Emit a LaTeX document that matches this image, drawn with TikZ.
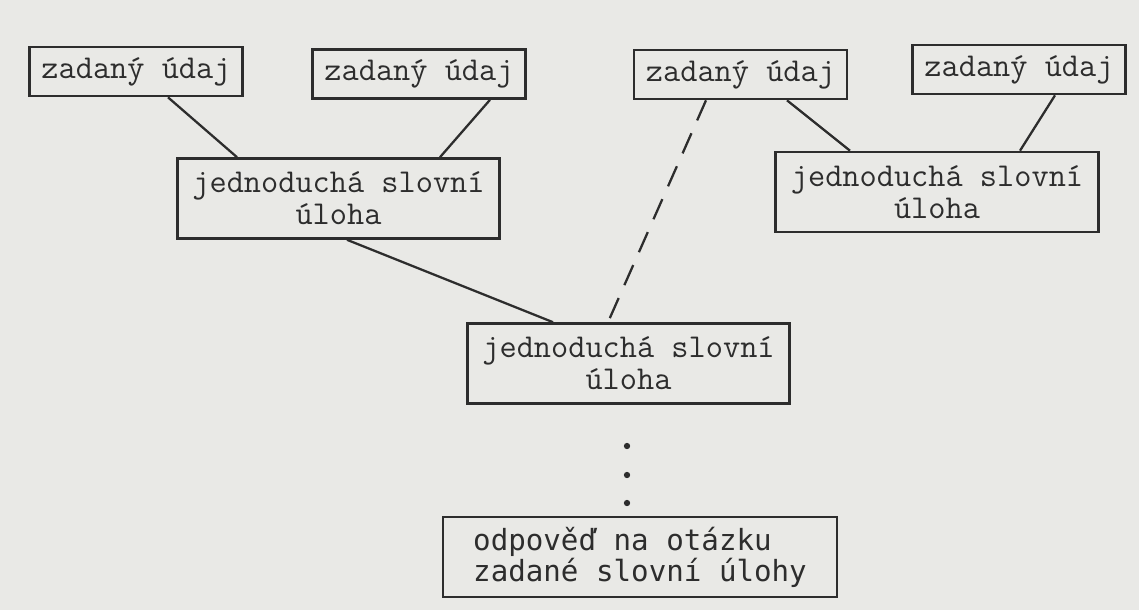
\documentclass[tikz,border=0pt]{standalone}
\usepackage{fontspec}
\newfontfamily\psacib{DejaVu Sans Mono}
\definecolor{papir}{RGB}{233,233,230}
\definecolor{inkoust}{RGB}{45,45,45}
\tikzset{
    udaj/.style={draw=inkoust, line width=1.5pt, text=inkoust, inner sep=0pt,
        minimum width=4.26cm, minimum height=0.98cm,
        font=\ttfamily\fontsize{19}{18}\selectfont},
    uloha/.style={udaj, align=center, minimum width=6.45cm, minimum height=1.6cm},
    spoj/.style={draw=inkoust, line width=1.3pt},
}

\begin{document}
\begin{tikzpicture}[x=0.02cm,y=-0.02cm]
    \fill[papir] (0,0) rectangle (1139,610);
    \node[udaj] (u1) at (136,71.5) {zadaný údaj};
    \node[udaj] (u2) at (419,74) {zadaný údaj};
    \node[udaj] (u3) at (740.5,74.5) {zadaný údaj};
    \node[udaj] (u4) at (1019,69.5) {zadaný údaj};
    \node[uloha] (s1) at (338.5,198.5) {jednoduchá slovní\\úloha};
    \node[uloha] (s2) at (937,192) {jednoduchá slovní\\úloha};
    \node[uloha] (s3) at (628.5,363.5) {jednoduchá slovní\\úloha};
    \node[uloha, minimum width=7.88cm, align=left,
        font=\psacib\fontsize{16.6}{15.2}\selectfont] (odp) at (640,557)
        {odpověď na otázku\\zadané slovní úlohy};
    \draw[spoj] (u1.south -| 168,0) -- (s1.north -| 237,0);
    \draw[spoj] (u2.south -| 490,0) -- (s1.north -| 440,0);
    \draw[spoj] (s1.south -| 347,0) -- (s3.north -| 553,0);
    \draw[spoj, dash pattern=on 12.5pt off 8pt] (u3.south -| 706,0) -- (s3.north -| 608,0);
    \draw[spoj] (u3.south -| 787,0) -- (s2.north -| 850,0);
    \draw[spoj] (u4.south -| 1055,0) -- (s2.north -| 1020,0);
    \foreach \y in {446,475,503}
        \fill[inkoust] (627,\y) circle (1.8pt);
\end{tikzpicture}
\end{document}
